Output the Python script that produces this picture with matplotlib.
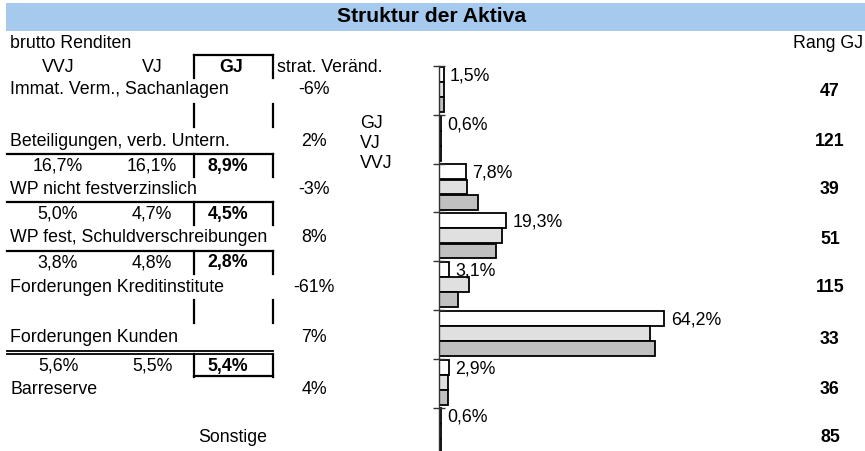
import numpy as np
import matplotlib.pyplot as plt

plt.rcParams['font.family'] = ['Liberation Sans', 'DejaVu Sans']

# Daten
kategorien = ["Immat. Verm., Sachanlagen", "Beteiligungen, verb. Untern.",
              "WP nicht festverzinslich", "WP fest, Schuldverschreibungen",
              "Forderungen Kreditinstitute", "Forderungen Kunden",
              "Barreserve", "Sonstige"]
anteil_gj = [1.5, 0.6, 7.8, 19.3, 3.1, 64.2, 2.9, 0.6]
anteil_vj = [1.5, 0.6, 8.0, 17.9, 8.6, 60.0, 2.8, 0.6]
anteil_vvj = [1.6, 0.6, 11.2, 16.2, 5.5, 61.5, 2.8, 0.6]
strat_veraend = ["-6%", "2%", "-3%", "8%", "-61%", "7%", "4%", ""]
rang_gj = [47, 121, 39, 51, 115, 33, 36, 85]
# brutto Renditen (Zeile unter der jeweiligen Kategorie), None = leer
rendite_vvj = [None, 16.7, 5.0, 3.8, None, 5.6, None, None]
rendite_vj = [None, 16.1, 4.7, 4.8, None, 5.5, None, None]
rendite_gj = [None, 8.9, 4.5, 2.8, None, 5.4, None, None]

def fmt(v):
    return ("%.1f%%" % v).replace(".", ",")

W, H = 865, 451
fig = plt.figure(figsize=(W / 100, H / 100), dpi=100)
fs = 12.8

# Hintergrund-Achse in Pixelkoordinaten fuer Tabelle/Titel
ax0 = fig.add_axes([0, 0, 1, 1])
ax0.set_xlim(0, W)
ax0.set_ylim(H, 0)
ax0.axis("off")

ax0.add_patch(plt.Rectangle((6, 3), W - 6, 28, color="#a6c9ee", lw=0))
ax0.text(432, 17, "Struktur der Aktiva", ha="center", va="center",
         fontsize=15.2, fontweight="bold")
ax0.text(10, 44, "brutto Renditen", ha="left", va="center", fontsize=fs)
ax0.text(863, 44, "Rang GJ", ha="right", va="center", fontsize=fs)

# Kopfzeile
x_vvj, x_vj, x_gj = 58, 152, 231
ax0.text(x_vvj, 67, "VVJ", ha="center", va="center", fontsize=fs)
ax0.text(x_vj, 67, "VJ", ha="center", va="center", fontsize=fs)
ax0.text(x_gj, 67, "GJ", ha="center", va="center", fontsize=fs, fontweight="bold")
ax0.text(277, 67, "strat. Veränd.", ha="left", va="center", fontsize=fs)

lw = 1.6
xl, xr = 193.5, 272.5
ax0.plot([xl, xr], [55, 55], color="black", lw=lw)
ax0.plot([xl, xl], [55, 78], color="black", lw=lw)
ax0.plot([xr, xr], [55, 78], color="black", lw=lw)

name_y = [90, 141, 190, 238, 287, 338, 390, 437]
rang_y = [92, 142, 190, 240, 287, 339, 390, 437]
rend_top = [104, 154, 202, 251, 300, 354, None, None]

for i, name in enumerate(kategorien):
    if name == "Sonstige":
        ax0.text(267, name_y[i], name, ha="right", va="center", fontsize=fs)
    else:
        ax0.text(10, name_y[i], name, ha="left", va="center", fontsize=fs)
    ax0.text(314, name_y[i], strat_veraend[i], ha="center", va="center", fontsize=fs)
    ax0.text(830, rang_y[i], str(rang_gj[i]), ha="center", va="center",
             fontsize=fs, fontweight="bold")
    t = rend_top[i]
    if t is None:
        continue
    ax0.plot([xl, xl], [t, t + 23], color="black", lw=lw)
    ax0.plot([xr, xr], [t, t + 23], color="black", lw=lw)
    if rendite_gj[i] is not None:
        if i == 5:
            ax0.plot([7, 273], [t - 3.5, t - 3.5], color="black", lw=1.3)
            ax0.plot([7, 273], [t, t], color="black", lw=1.3)
            ax0.plot([xl, xr], [t + 22, t + 22], color="black", lw=lw)
        else:
            ax0.plot([7, 273], [t, t], color="black", lw=lw)
        ty = t + 12
        ax0.text(x_vvj, ty, fmt(rendite_vvj[i]), ha="center", va="center", fontsize=fs)
        ax0.text(x_vj, ty, fmt(rendite_vj[i]), ha="center", va="center", fontsize=fs)
        ax0.text(x_gj - 3, ty, fmt(rendite_gj[i]), ha="center", va="center",
                 fontsize=fs, fontweight="bold")

# Legende (nur Text)
for j, lab in enumerate(["GJ", "VJ", "VVJ"]):
    ax0.text(360, 123 + 20.5 * j, lab, ha="left", va="center", fontsize=fs)

# Balkendiagramm
px_pro_proz = 3.52
x0, y_top, grp = 438.5, 66, 48.8
breite = 70 * px_pro_proz
hoehe = 8 * grp
ax = fig.add_axes([x0 / W, (H - y_top - hoehe) / H, breite / W, hoehe / H])
ax.patch.set_alpha(0)
pos = np.arange(len(kategorien))
h = 0.305
ax.barh(pos - 0.33, anteil_gj, height=h, color="white", edgecolor="black", lw=1.3)
ax.barh(pos - 0.02, anteil_vj, height=h, color="#e0e0e0", edgecolor="black", lw=1.3)
ax.barh(pos + 0.29, anteil_vvj, height=h, color="#c0c0c0", edgecolor="black", lw=1.3)
for i, v in enumerate(anteil_gj):
    ax.annotate(fmt(v), (v, pos[i] - 0.3), xytext=(4.5, 0), textcoords="offset points",
                ha="left", va="center", fontsize=fs)
ax.set_xlim(0, 70)
ax.set_ylim(7.5, -0.5)
ax.set_yticks(np.arange(-0.5, 8, 1))
ax.set_yticklabels([])
ax.tick_params(axis="y", direction="inout", length=8, width=1, color="#333333")
ax.set_xticks([])
for s in ["top", "right", "bottom"]:
    ax.spines[s].set_visible(False)
ax.spines["left"].set_linewidth(1.0)
ax.spines["left"].set_color("#333333")

fig.savefig("out.png", dpi=100)
